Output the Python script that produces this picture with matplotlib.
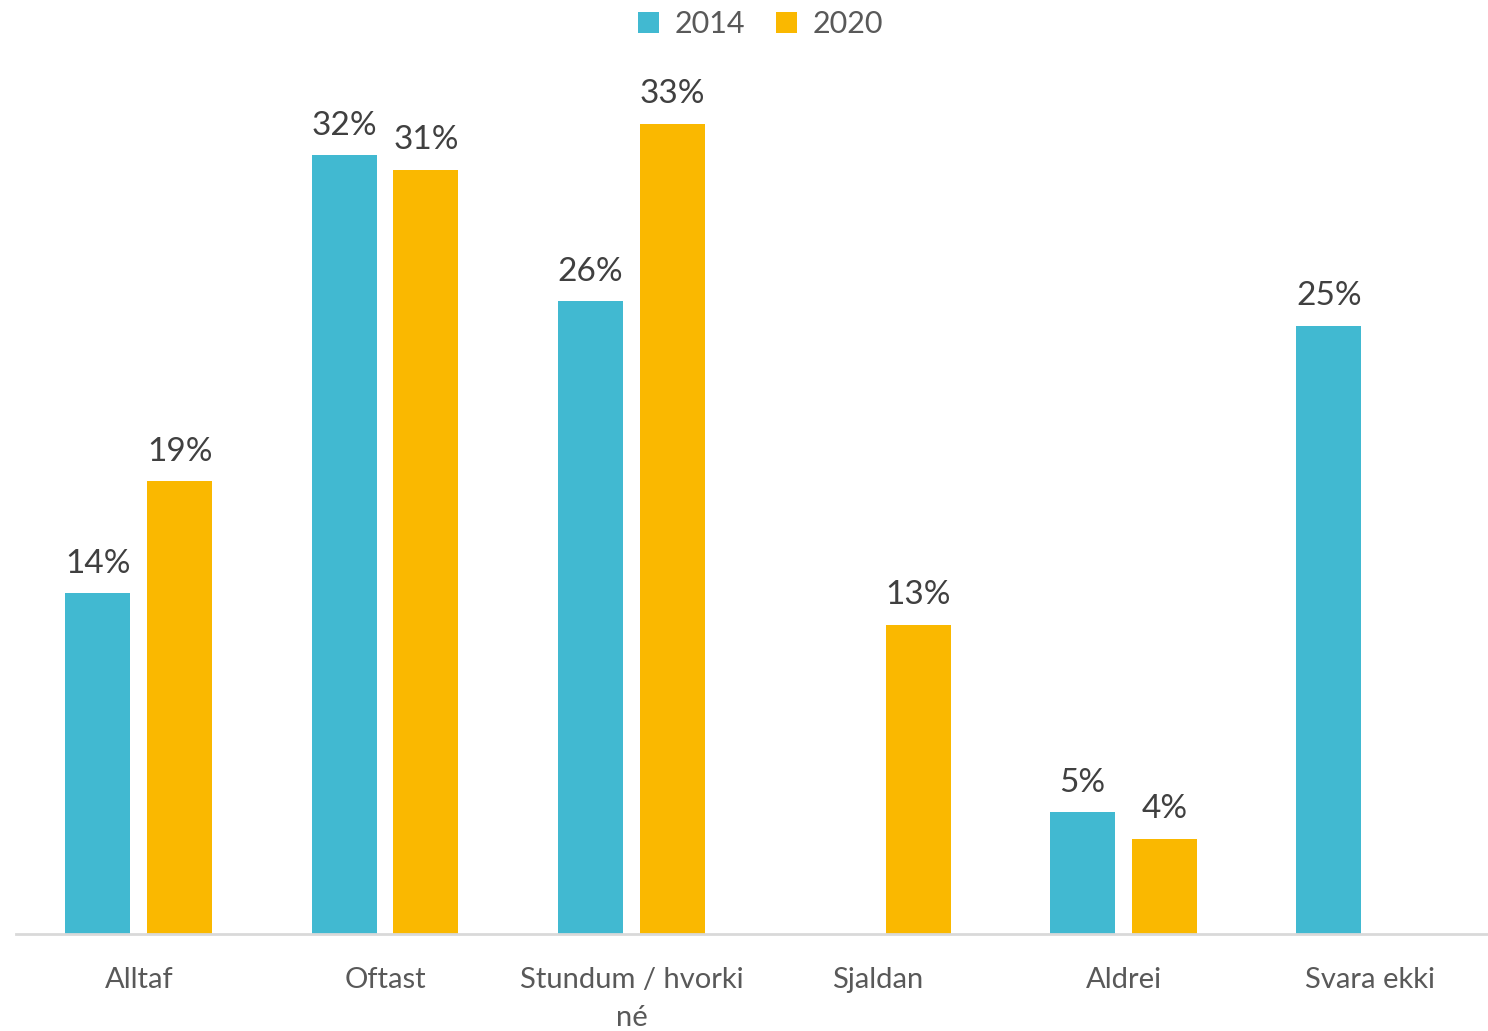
import numpy as np
import matplotlib.pyplot as plt

categories = ["Alltaf", "Oftast", "Stundum / hvorki\nné", "Sjaldan", "Aldrei", "Svara ekki"]
series_names = ["2014", "2020"]
values_2014 = [14, 32, 26, np.nan, 5, 25]
values_2020 = [18.6, 31.4, 33.3, 12.7, 3.9, np.nan]
colors = ["#41B9D1", "#FAB800"]

plt.rcParams['font.family'] = ['Lato', 'DejaVu Sans']

fig = plt.figure(figsize=(14.88, 10.31), dpi=100)
ax = fig.add_axes([16 / 1488, 97 / 1031, 1477 / 1488, 876 / 1031])

x_pos = np.arange(len(categories))
width = 0.264
offsets = [-0.167, 0.165]

for name, vals, col, off in zip(series_names, [values_2014, values_2020], colors, offsets):
    ax.bar(x_pos + off, vals, width, color=col, label=name)
    for xp, v in zip(x_pos, vals):
        if np.isnan(v):
            continue
        ax.text(xp + off, v + 0.6, f"{round(v)}%", ha="center", va="bottom",
                fontsize=24, color="#404040")

ax.set_xlim(-0.5, 5.5)
ax.set_ylim(0, 36)
ax.set_yticks([])
ax.set_xticks(x_pos)
ax.set_xticklabels(categories, fontsize=21, color="#595959", linespacing=1.55)
ax.tick_params(axis="x", length=0, pad=24)
for s in ["top", "left", "right"]:
    ax.spines[s].set_visible(False)
ax.spines["bottom"].set_color("#D9D9D9")
ax.spines["bottom"].set_linewidth(2)

fig.legend(loc="upper center", bbox_to_anchor=(0.511, 1.017), ncol=2, frameon=False,
           fontsize=22, handlelength=0.7, handleheight=0.7, handletextpad=0.5,
           columnspacing=1.0, labelcolor="#595959")

fig.savefig("out.png", dpi=100)
